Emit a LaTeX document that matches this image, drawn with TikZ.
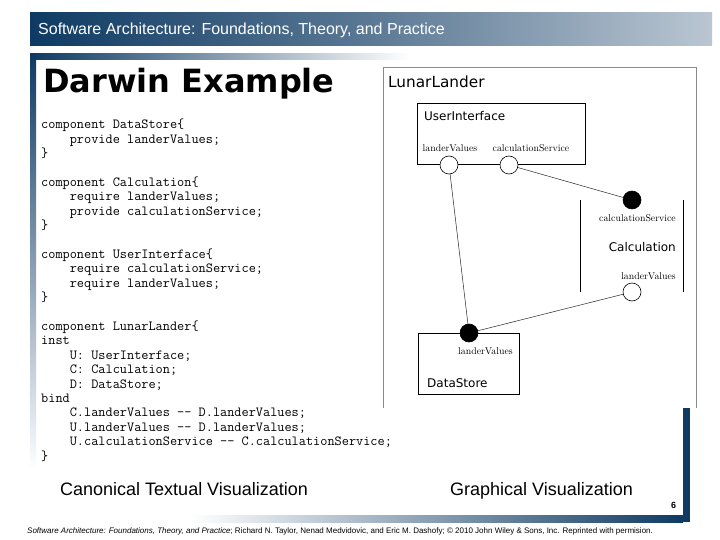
\documentclass[tikz,border=0pt]{standalone}
\usepackage{fontspec}
\usepackage{tikz}
\usetikzlibrary{positioning, calc}
\newfontfamily\arialfont{Liberation Sans}
\newfontfamily\verdanafont{DejaVu Sans}
\definecolor{slideNavy}{HTML}{0E3A63}
\definecolor{slideMist}{HTML}{BAC6D2}
\definecolor{frameGray}{HTML}{8A8A8A}
\newcommand\codeindent{\phantom{xxxx}}

\begin{document}
\begin{tikzpicture}[
  x=1pt, y=-1pt,
  slidetext/.style={font=\arialfont\fontsize{#1}{#1}\selectfont, inner sep=0pt},
  comp/.style={
    draw=black, line width=0.6pt, inner sep=0pt,
    minimum width=#1
  },
  port/.style={
    circle, minimum size=18pt, inner sep=0pt,
    draw=black, line width=0.6pt, fill=white
  },
  provided/.style={port, fill=black},
  portlabel/.style={font=\fontsize{9.8}{10}\selectfont, inner sep=0pt},
  complabel/.style={font=\verdanafont\fontsize{#1}{#1}\selectfont, inner sep=0pt},
  binding/.style={draw=black!85, line width=0.5pt},
]
\useasboundingbox[fill=white] (0,0) rectangle (720,540);

% === SLIDE FRAME ===
\shade[left color=slideNavy, right color=slideMist, middle color=slideNavy!55!slideMist]
  (30,13) rectangle (712,46);
\shade[left color=slideNavy, right color=white] (30,54) rectangle (410,60);
\shade[top color=slideNavy, bottom color=white] (30,54) rectangle (36,470);
\fill[slideNavy] (683,408) rectangle (690,522);
\shade[left color=white, right color=slideNavy] (190,515) rectangle (683,522);

\node[slidetext=16, text=white, anchor=base west] (s-title) at (38,35)
  {Software Architecture: Foundations, Theory, and Practice};

% === TEXTUAL SIDE ===
\node[font=\verdanafont\bfseries\fontsize{32}{32}\selectfont, inner sep=0pt,
  anchor=base west] (t-head) at (43,93) {Darwin Example};

\node[font=\ttfamily\fontsize{13.9}{14.4}\selectfont, align=left, inner sep=0pt,
  anchor=north west] (t-code) at (41,119) {%
component DataStore\{\\
\codeindent provide landerValues;\\
\}\\ \mbox{}\\
component Calculation\{\\
\codeindent require landerValues;\\
\codeindent provide calculationService;\\
\}\\ \mbox{}\\
component UserInterface\{\\
\codeindent require calculationService;\\
\codeindent require landerValues;\\
\}\\ \mbox{}\\
component LunarLander\{\\
inst\\
\codeindent U: UserInterface;\\
\codeindent C: Calculation;\\
\codeindent D: DataStore;\\
bind\\
\codeindent C.landerValues -{}- D.landerValues;\\
\codeindent U.landerValues -{}- D.landerValues;\\
\codeindent U.calculationService -{}- C.calculationService;\\
\}};

% === GRAPHICAL SIDE ===
\draw[frameGray, line width=0.8pt] (383,408) -- (383,67) -- (696,67) -- (696,408);
\node[complabel=15.3, anchor=west] (g-name) at (388,82) {LunarLander};

% UserInterface
\node[comp=168pt, minimum height=61pt] (u-box) at (501,133.5) {};
\node[complabel=12, anchor=west] (u-name) at (424,116) {UserInterface};
\node[portlabel] (u-lvtext) at (450,148) {landerValues};
\node[portlabel] (u-cstext) at (531,148) {calculationService};
\node[port] (u-lv) at (449,165) {};
\node[port] (u-cs) at (509,165) {};

% Calculation (side walls only)
\node[minimum width=103pt, minimum height=92pt, inner sep=0pt] (c-box) at (631.5,246) {};
\draw[black, line width=0.6pt] (c-box.north west) -- (c-box.south west);
\draw[black, line width=0.6pt] (c-box.north east) -- (c-box.south east);
\node[portlabel] (c-cstext) at (637.5,218) {calculationService};
\node[complabel=12, anchor=east] (c-name) at (676,247) {Calculation};
\node[portlabel, anchor=east] (c-lvtext) at (676,276) {landerValues};
\node[provided] (c-cs) at (632,200) {};
\node[port] (c-lv) at (632,292) {};

% DataStore
\node[comp=101pt, minimum height=61pt] (d-box) at (468.5,363.5) {};
\node[portlabel] (d-lvtext) at (485.5,351) {landerValues};
\node[complabel=12, anchor=west] (d-name) at (427,383) {DataStore};
\node[provided] (d-lv) at (469,333) {};

% Bindings
\draw[binding] (u-lv) -- (d-lv);
\draw[binding] (u-cs) -- (c-cs);
\draw[binding] (c-lv) -- (d-lv);

% === CAPTIONS ===
\node[slidetext=18, anchor=base west] (cap-text) at (60,495) {Canonical Textual Visualization};
\node[slidetext=18, anchor=base west] (cap-graph) at (450,495) {Graphical Visualization};
\node[font=\arialfont\bfseries\fontsize{9}{9}\selectfont, inner sep=0pt] (s-page) at (673.5,505) {6};
\node[slidetext=8, anchor=base west] (s-foot) at (27,533)
  {\itshape Software Architecture: Foundations, Theory, and Practice\upshape; Richard N. Taylor, Nenad Medvidovic, and Eric M. Dashofy; \textcopyright{} 2010 John Wiley \& Sons, Inc. Reprinted with permision.};

\end{tikzpicture}
\end{document}
